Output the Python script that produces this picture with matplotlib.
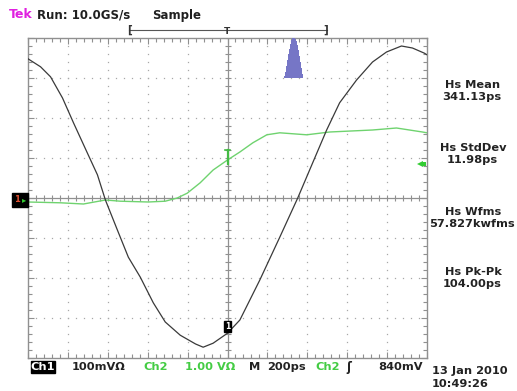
import matplotlib
matplotlib.use("Agg")
import matplotlib.pyplot as plt
from matplotlib.patches import Rectangle
import numpy as np

W, H = 517, 391

# ---- data (time in ps, amplitude in divisions) ----
ch1_t = [-1000, -937, -887, -827, -772, -702, -652, -612, -552, -497, -437, -372, -312,
         -237, -160, -122, -72, 0, 62, 162, 262, 352, 427, 497, 562, 647, 727, 797, 872,
         927, 987, 1000]
ch1_v = [3.48, 3.28, 3.03, 2.50, 1.88, 1.12, 0.58, -0.05, -0.80, -1.48, -1.98, -2.62, -3.10,
         -3.43, -3.65, -3.73, -3.63, -3.38, -3.05, -2.05, -0.98, 0.00, 0.88, 1.70, 2.38, 2.95,
         3.40, 3.65, 3.80, 3.75, 3.62, 3.58]

ch2_t = [-1000, -837, -722, -612, -537, -397, -312, -252, -202, -137, -72, 0, 62, 127,
         197, 262, 397, 512, 727, 847, 977, 1000]
ch2_v = [-0.10, -0.12, -0.15, -0.05, -0.08, -0.10, -0.08, 0.00, 0.12, 0.38, 0.70, 0.95,
         1.15, 1.38, 1.58, 1.63, 1.58, 1.65, 1.70, 1.75, 1.65, 1.63]

hist_t = [285, 290, 295, 300, 305, 310, 315, 320, 325, 330, 335, 340, 345, 350, 355, 360,
          365, 370, 375]
hist_h = [0.05, 0.15, 0.3, 0.45, 0.6, 0.72, 0.85, 0.95, 1.0, 1.0, 1.0, 0.98, 0.92, 0.82,
          0.7, 0.55, 0.4, 0.25, 0.1]

trig_level_div = 0.84  # 840 mV at 1.00 V/div

stats_labels = ["Hs Mean", "Hs StdDev", "Hs Wfms", "Hs Pk-Pk"]
stats_values = ["341.13ps", "11.98ps", "57.827kwfms", "104.00ps"]

def fx(x):
    return x / W

def fy(y):
    return 1 - y / H

fig = plt.figure(figsize=(W / 100, H / 100), dpi=100)
fig.patch.set_facecolor("white")

# plot area: x 28..427, y 38..358 px
ax = fig.add_axes([fx(28), fy(358), (427 - 28) / W, (358 - 38) / H])
ax.set_xlim(-1000, 1000)
ax.set_ylim(-4, 4)
ax.set_facecolor("white")

gcol = "#a8a8a8"
for s in ax.spines.values():
    s.set_color("#909090")
    s.set_linewidth(1.0)

ax.set_xticks(np.arange(-1000, 1001, 200))
ax.set_yticks(np.arange(-4, 4.01, 1))
ax.set_xticks(np.arange(-1000, 1001, 40), minor=True)
ax.set_yticks(np.arange(-4, 4.01, 0.2), minor=True)
ax.tick_params(which="both", direction="in", top=True, right=True, labelbottom=False,
               labelleft=False, color="#909090", width=0.8)
ax.tick_params(which="major", length=4)
ax.tick_params(which="minor", length=3)

# dotted grid
xs_major = np.arange(-800, 801, 200)
ys_major = np.arange(-3, 3.01, 1)
xs_minor = np.arange(-1000, 1001, 40)
ys_minor = np.arange(-4, 4.01, 0.2)
for xm in xs_major:
    if xm == 0:
        continue
    ax.plot(np.full(len(ys_minor), xm), ys_minor, ls="none", marker="s", ms=0.9,
            color=gcol, mew=0)
for ym in ys_major:
    if ym == 0:
        continue
    ax.plot(xs_minor, np.full(len(xs_minor), ym), ls="none", marker="s", ms=0.9,
            color=gcol, mew=0)

# center cross with ticks
ax.axhline(0, color="#909090", lw=0.9)
ax.axvline(0, color="#909090", lw=0.9)
ax.plot(xs_minor, np.zeros(len(xs_minor)), ls="none", marker="|", ms=4.5, mew=0.8,
        color="#909090")
ax.plot(np.zeros(len(ys_minor)), ys_minor, ls="none", marker="_", ms=4.5, mew=0.8,
        color="#909090")

# histogram (grows upward within the top division)
hh = np.array(hist_h)
ax.bar(hist_t, hh, bottom=3, width=5.2, color="#7676c6", linewidth=0, zorder=3)

# traces
ax.plot(ch2_t, ch2_v, color="#6fd36f", lw=1.0, zorder=4)
ax.plot(ch1_t, ch1_v, color="#3a3a3a", lw=0.9, zorder=5)

# trigger marker on ch2 at t=0
ax.plot([0, 0], [0.85, 1.2], color="#44bb44", lw=1.6, zorder=6)
ax.plot([-12, 12], [1.2, 1.2], color="#44bb44", lw=1.2, zorder=6)
# trigger level arrow at right
ax.plot([965], [trig_level_div], marker="<", ms=4.5, color="#33cc33", mew=0, zorder=6)
ax.plot([985], [trig_level_div], marker="s", ms=3, color="#33cc33", mew=0, zorder=6)

# ch1 marker near bottom center
ax.text(0, -3.21, "1", ha="center", va="center", fontsize=5.5, color="white",
        fontweight="bold", zorder=7,
        bbox=dict(boxstyle="square,pad=0.15", fc="black", ec="black"))

# left ground marker
fig.patches.append(Rectangle((fx(12), fy(207)), 16 / W, 14 / H, transform=fig.transFigure,
                             fc="black", ec="black", zorder=10))
fig.text(fx(17), fy(200), "1", color="#e05030", fontsize=6, fontweight="bold",
         ha="center", va="center", zorder=11)
fig.text(fx(24), fy(200), "\u25b8", color="#33cc33", fontsize=6, ha="center",
         va="center", zorder=11)

txt = dict(family="DejaVu Sans")
# header
fig.text(fx(9), fy(15), "Tek", color="#e020e0", fontsize=9, fontweight="bold",
         va="center", **txt)
fig.text(fx(37), fy(15), "Run: 10.0GS/s", color="#202020", fontsize=8.5, fontweight="bold",
         va="center", **txt)
fig.text(fx(152), fy(15), "Sample", color="#202020", fontsize=8.5, fontweight="bold",
         va="center", **txt)

# record bracket
fig.add_artist(plt.Line2D([fx(129), fx(327)], [fy(30), fy(30)], color="#555555", lw=0.8))
fig.text(fx(129), fy(30), "[", fontsize=7.5, ha="center", va="center", color="#333333",
         fontweight="bold", **txt)
fig.text(fx(326), fy(30), "]", fontsize=7.5, ha="center", va="center", color="#333333",
         fontweight="bold", **txt)
fig.text(fx(227), fy(31), "T", fontsize=6.5, ha="center", va="center", color="#333333",
         fontweight="bold", **txt)

# stats panel
lab_y = [85, 148, 212, 272]
for lbl, val, yy in zip(stats_labels, stats_values, lab_y):
    fig.text(fx(473), fy(yy), lbl, ha="center", va="center", fontsize=8.2,
             fontweight="bold", color="#222222", **txt)
    fig.text(fx(472), fy(yy + 12), val, ha="center", va="center", fontsize=8.2,
             fontweight="bold", color="#222222", **txt)

# bottom status row
yb = 367
fs = 8.2
fig.patches.append(Rectangle((fx(31), fy(373)), 24 / W, 12 / H, transform=fig.transFigure,
                             fc="black", ec="black", zorder=10))
fig.text(fx(43), fy(yb), "Ch1", color="white", fontsize=fs, fontweight="bold",
         ha="center", va="center", zorder=11, **txt)
fig.text(fx(72), fy(yb), "100mV\u03a9", color="#222222", fontsize=fs, fontweight="bold",
         va="center", **txt)
fig.text(fx(143), fy(yb), "Ch2", color="#44cc44", fontsize=fs, fontweight="bold",
         va="center", **txt)
fig.text(fx(185), fy(yb), "1.00 V\u03a9", color="#44cc44", fontsize=fs, fontweight="bold",
         va="center", **txt)
fig.text(fx(249), fy(yb), "M", color="#222222", fontsize=fs, fontweight="bold",
         va="center", **txt)
fig.text(fx(267), fy(yb), "200ps", color="#222222", fontsize=fs, fontweight="bold",
         va="center", **txt)
fig.text(fx(315), fy(yb), "Ch2", color="#44cc44", fontsize=fs, fontweight="bold",
         va="center", **txt)
fig.text(fx(349), fy(yb), "\u0283", color="#222222", fontsize=8.5, fontweight="bold",
         ha="center", va="center", **txt)
fig.text(fx(378), fy(yb), "840mV", color="#222222", fontsize=fs, fontweight="bold",
         va="center", **txt)
fig.text(fx(432), fy(371), "13 Jan 2010", color="#222222", fontsize=fs, fontweight="bold",
         va="center", **txt)
fig.text(fx(432), fy(384), "10:49:26", color="#222222", fontsize=fs, fontweight="bold",
         va="center", **txt)

fig.savefig("out.png", dpi=100, facecolor="white")
